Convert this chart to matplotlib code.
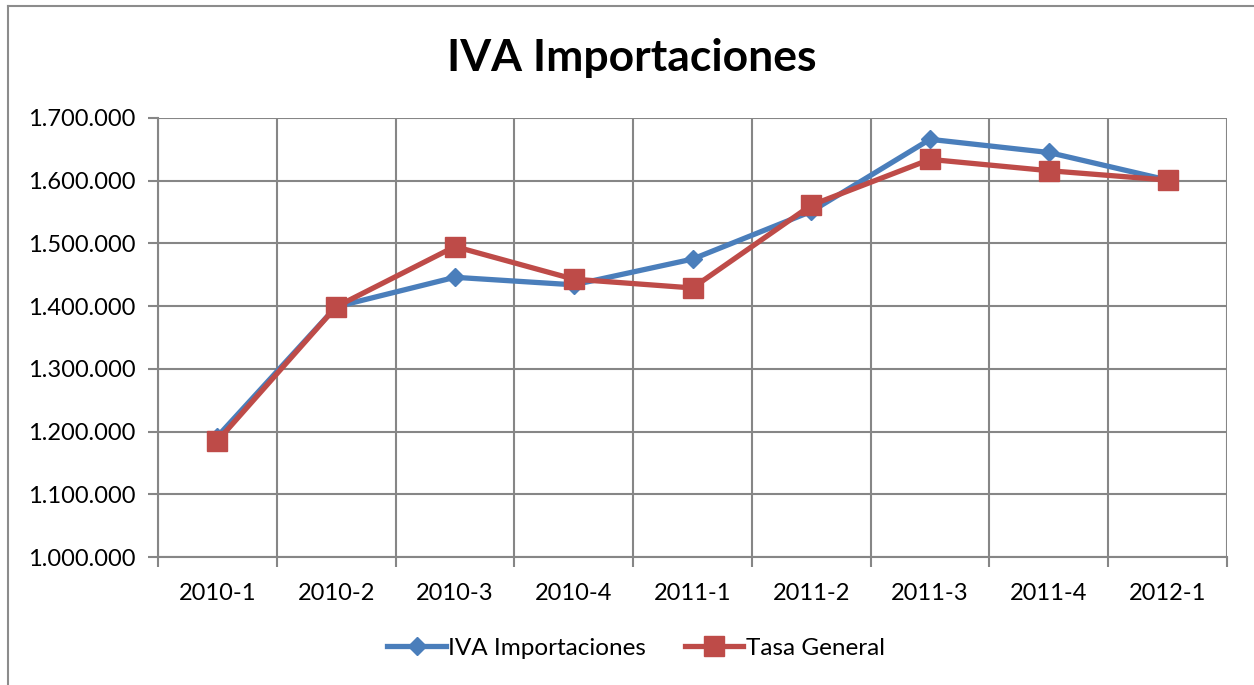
import matplotlib
matplotlib.use("Agg")
import matplotlib.pyplot as plt
from matplotlib.lines import Line2D
from matplotlib.ticker import FuncFormatter

categories = ["2010-1", "2010-2", "2010-3", "2010-4", "2011-1", "2011-2", "2011-3", "2011-4", "2012-1"]
iva_importaciones = [1192000, 1399000, 1446000, 1434000, 1475000, 1551000, 1666000, 1645000, 1601000]
tasa_general = [1185000, 1399000, 1495000, 1443000, 1429000, 1561000, 1634000, 1616000, 1601000]

plt.rcParams['font.family'] = ['Lato', 'DejaVu Sans']

fig = plt.figure(figsize=(12.54, 6.85), dpi=100)
ax = fig.add_axes([158/1254, 1-557/685, (1227-158)/1254, (557-118)/685])

blue = "#4A7EBB"
red = "#BE4B48"
grid = "#868686"
lw = 3.8

x = list(range(len(categories)))
ax.plot(x, iva_importaciones, color=blue, lw=lw, marker="D", ms=9, mec=blue, mfc=blue, zorder=3,
        label="IVA Importaciones")
ax.plot(x, tasa_general, color=red, lw=lw, marker="s", ms=14, mec=red, mfc=red, zorder=4,
        label="Tasa General")

ax.set_xlim(-0.5, len(categories) - 0.5)
ax.set_ylim(1000000, 1700000)
ax.set_yticks(range(1000000, 1700001, 100000))
ax.yaxis.set_major_formatter(FuncFormatter(lambda v, p: f"{int(v):,}".replace(",", ".")))
ax.set_xticks(x)
ax.set_xticklabels(categories)
ax.set_xticks([i - 0.5 for i in range(len(categories) + 1)], minor=True)

ax.grid(True, axis="y", which="major", color=grid, lw=1.5)
ax.grid(True, axis="x", which="minor", color=grid, lw=1.5)
ax.set_axisbelow(True)

ax.tick_params(axis="x", which="major", length=0, pad=19, labelsize=17)
ax.tick_params(axis="x", which="minor", length=7, width=1.5, color=grid, direction="out")
ax.tick_params(axis="y", which="major", length=7, width=1.5, color=grid, direction="out", pad=9, labelsize=17)

for s in ["top", "right"]:
    ax.spines[s].set_visible(False)
for s in ["left", "bottom"]:
    ax.spines[s].set_color(grid)
    ax.spines[s].set_linewidth(1.5)

fig.text(632/1254, 1-58/685, "IVA Importaciones", ha="center", va="center", fontsize=32, fontweight="bold")

handles = [Line2D([0], [0], color=blue, lw=lw, marker="D", ms=9),
           Line2D([0], [0], color=red, lw=lw, marker="s", ms=14)]
fig.legend(handles, ["IVA Importaciones", "Tasa General"], loc="center", bbox_to_anchor=(636/1254, 1-648/685),
           ncol=2, frameon=False, fontsize=17.5, handlelength=2.4, handletextpad=0.1, columnspacing=1.6)

fig.add_artist(Line2D([8/1254, 8/1254], [0, 1-6/685], color="#8c8c8c", lw=1.5, transform=fig.transFigure))
fig.add_artist(Line2D([8/1254, 1], [1-6/685, 1-6/685], color="#8c8c8c", lw=1.5, transform=fig.transFigure))

fig.savefig("out.png", dpi=100, facecolor="white")
